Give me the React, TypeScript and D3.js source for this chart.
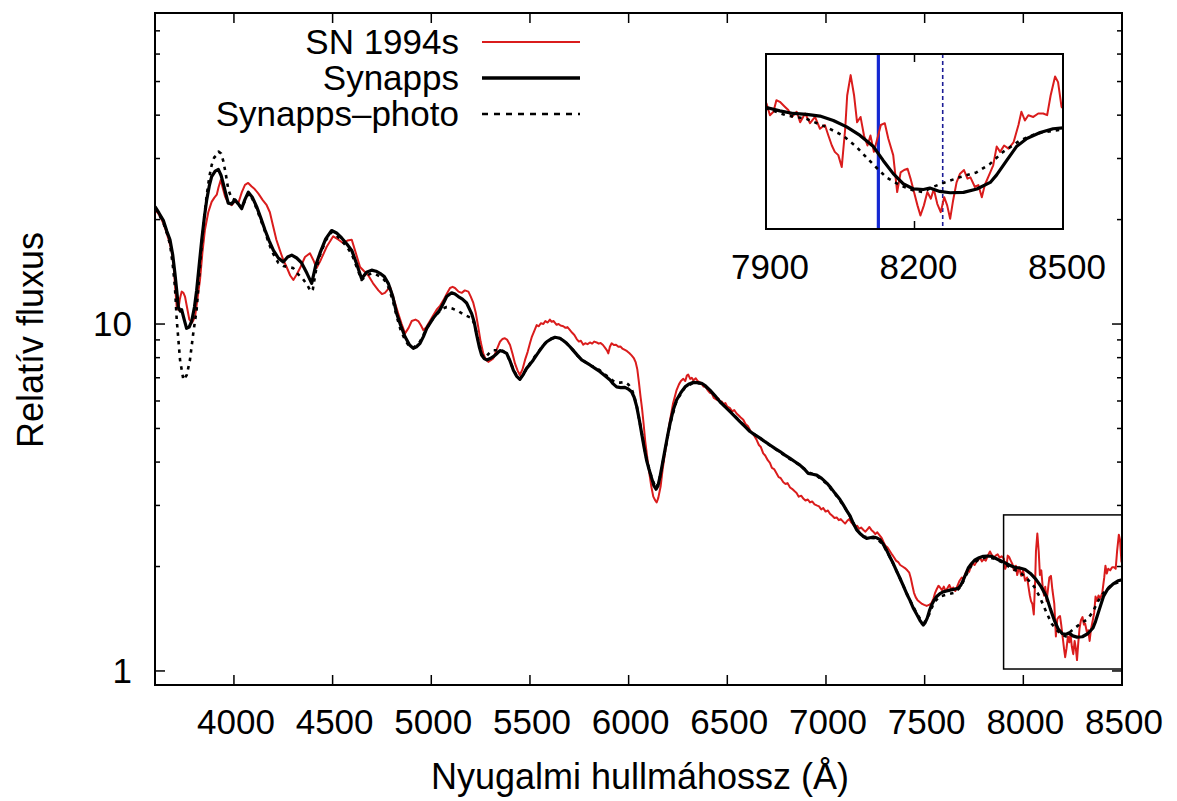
import React from 'react';
import * as d3 from 'd3';

type Pt = [number, number];

// Observed spectrum of SN 1994s: [wavelength (Å), relative flux]
const obsSpectrum: Pt[] = [
  [3600,21.3],[3615,20.9],[3630,20.2],[3642,19.5],[3655,18.6],[3668,17.6],[3684,16.3],[3695,14.5],[3703,12.6],[3710,11.2],[3718,11.0],[3726,11.8],[3735,12.4],[3744,12.3],[3752,12.0],[3762,11.2],[3774,10.3],[3788,10.1],[3803,10.5],[3815,11.8],[3828,13.4],[3840,16.0],[3853,18.7],[3870,21.0],[3887,22.5],[3900,23.1],[3913,23.6],[3922,24.8],[3933,26.0],[3944,24.6],[3955,23.3],[3970,22.4],[3989,22.0],[4005,22.6],[4022,22.3],[4040,24.0],[4056,25.2],[4072,25.5],[4090,24.9],[4105,24.5],[4123,23.8],[4145,22.8],[4166,22.0],[4182,21.0],[4199,19.1],[4215,17.5],[4233,16.3],[4250,15.3],[4267,14.6],[4285,13.8],[4301,13.4],[4318,13.9],[4335,14.5],[4360,15.6],[4385,16.0],[4402,15.3],[4419,14.5],[4440,15.3],[4470,16.7],[4503,17.9],[4530,17.5],[4554,17.1],[4575,17.4],[4597,17.5],[4615,16.2],[4639,14.6],[4660,14.2],[4681,13.8],[4705,13.1],[4732,12.5],[4750,12.2],[4765,12.3],[4791,12.8],[4810,11.8],[4833,10.7],[4850,10.0],[4867,9.4],[4885,9.75],[4901,10.2],[4920,10.3],[4934,10.2],[4948,9.9],[4960,9.6],[4975,9.8],[4993,10.2],[5010,10.6],[5027,11.0],[5045,11.3],[5061,11.7],[5078,12.2],[5095,12.7],[5108,12.8],[5120,12.7],[5138,12.4],[5154,12.3],[5170,12.5],[5188,12.4],[5200,12.0],[5213,11.5],[5225,10.8],[5238,9.8],[5250,8.9],[5264,8.2],[5277,7.9],[5289,7.78],[5300,7.85],[5314,7.96],[5330,8.4],[5348,8.89],[5360,9.05],[5373,9.1],[5385,9.0],[5399,8.7],[5412,8.2],[5424,7.7],[5437,7.35],[5449,7.13],[5462,7.4],[5475,7.88],[5488,8.3],[5500,8.8],[5510,9.2],[5520,9.5],[5534,9.93],[5545,9.85],[5555,10.05],[5568,10.0],[5578,10.2],[5590,10.1],[5601,10.3],[5610,10.15],[5620,10.2],[5635,9.95],[5645,10.0],[5655,9.9],[5669,9.85],[5680,9.75],[5690,9.8],[5703,9.6],[5713,9.45],[5725,9.3],[5737,9.05],[5748,8.9],[5758,8.95],[5770,8.72],[5780,8.8],[5792,8.75],[5804,8.85],[5815,8.78],[5826,8.9],[5838,8.85],[5848,8.78],[5858,8.82],[5870,8.7],[5880,8.55],[5890,8.4],[5897,8.23],[5905,8.6],[5914,8.8],[5925,8.7],[5936,8.72],[5948,8.6],[5958,8.62],[5968,8.5],[5981,8.42],[5992,8.35],[6003,8.25],[6015,8.12],[6026,7.98],[6036,7.75],[6044,7.4],[6052,6.8],[6060,6.2],[6068,5.7],[6076,5.15],[6084,4.6],[6095,4.1],[6105,3.71],[6115,3.4],[6125,3.18],[6135,3.1],[6142,3.06],[6150,3.15],[6162,3.4],[6172,3.8],[6184,4.24],[6197,4.75],[6210,5.29],[6225,5.9],[6243,6.45],[6255,6.7],[6265,6.85],[6277,6.95],[6287,6.85],[6295,7.1],[6302,7.15],[6312,6.95],[6320,7.0],[6328,6.88],[6340,6.98],[6350,6.85],[6360,6.8],[6370,6.72],[6380,6.6],[6390,6.62],[6400,6.45],[6412,6.33],[6422,6.3],[6432,6.12],[6446,6.05],[6455,6.1],[6463,5.95],[6472,5.98],[6480,5.88],[6490,5.92],[6500,5.78],[6514,5.72],[6525,5.6],[6535,5.65],[6547,5.52],[6558,5.45],[6568,5.38],[6581,5.3],[6592,5.15],[6604,5.08],[6615,4.95],[6625,4.85],[6635,4.78],[6649,4.63],[6660,4.48],[6670,4.42],[6682,4.24],[6692,4.18],[6705,4.05],[6716,3.98],[6726,3.85],[6737,3.82],[6750,3.71],[6760,3.62],[6770,3.6],[6784,3.5],[6795,3.46],[6805,3.48],[6818,3.38],[6828,3.35],[6840,3.3],[6851,3.26],[6862,3.18],[6875,3.2],[6885,3.14],[6896,3.1],[6908,3.12],[6919,3.06],[6930,3.08],[6942,3.02],[6953,3.0],[6965,2.98],[6976,2.92],[6986,2.95],[6998,2.88],[7010,2.9],[7020,2.84],[7032,2.8],[7043,2.76],[7054,2.77],[7065,2.72],[7075,2.74],[7088,2.69],[7097,2.66],[7108,2.71],[7118,2.74],[7128,2.68],[7138,2.64],[7147,2.61],[7158,2.62],[7168,2.57],[7178,2.59],[7190,2.55],[7200,2.52],[7210,2.56],[7220,2.6],[7230,2.55],[7240,2.52],[7250,2.48],[7260,2.51],[7272,2.46],[7282,2.42],[7292,2.35],[7300,2.3],[7312,2.27],[7325,2.21],[7336,2.16],[7346,2.12],[7355,2.08],[7366,2.06],[7376,2.02],[7388,2.0],[7400,1.98],[7412,1.95],[7422,1.92],[7430,1.85],[7438,1.76],[7446,1.68],[7455,1.63],[7464,1.6],[7475,1.58],[7487,1.56],[7498,1.55],[7510,1.54],[7522,1.55],[7535,1.57],[7545,1.62],[7553,1.68],[7561,1.72],[7570,1.76],[7578,1.74],[7588,1.71],[7597,1.75],[7606,1.7],[7615,1.73],[7625,1.77],[7635,1.72],[7645,1.74],[7655,1.7],[7666,1.76],[7677,1.82],[7688,1.86],[7697,1.84],[7706,1.91],[7716,1.95],[7725,1.93],[7734,2.0],[7744,2.04],[7753,2.02],[7762,2.06],[7772,2.09],[7780,2.12],[7790,2.07],[7800,2.1],[7810,2.08],[7820,2.15],[7831,2.21],[7840,2.16],[7850,2.12],[7860,2.15],[7870,2.17],[7880,2.12],[7890,2.14],[7901,2.11],
  [7908,1.97],[7915,2.01],[7921,2.15],[7928,2.13],[7938,2.07],[7945,2.03],[7952,1.95],[7962,2.01],[7969,1.89],[7979,1.99],[7989,1.88],[7999,1.95],[8009,1.82],[8019,1.86],[8026,1.75],[8033,1.65],[8039,1.59],[8046,1.56],[8053,1.455],[8060,1.82],[8064,2.21],[8071,2.49],[8078,2.21],[8084,1.89],[8091,1.95],[8098,1.75],[8105,1.65],[8111,1.75],[8118,1.59],[8125,1.72],[8132,1.86],[8140,1.88],[8147,1.72],[8157,1.56],[8165,1.257],[8172,1.41],[8179,1.43],[8186,1.44],[8192,1.36],[8199,1.257],[8206,1.163],[8212,1.096],[8219,1.163],[8226,1.257],[8233,1.209],[8239,1.28],[8246,1.174],[8253,1.118],[8260,1.22],[8266,1.163],[8272,1.075],[8278,1.197],[8285,1.33],[8292,1.40],[8300,1.43],[8307,1.36],[8313,1.37],[8322,1.295],[8329,1.31],[8336,1.22],[8342,1.31],[8353,1.41],[8359,1.47],[8366,1.64],[8373,1.59],[8381,1.65],[8390,1.62],[8400,1.68],[8410,1.86],[8416,2.01],[8423,1.91],[8430,1.97],[8440,1.95],[8450,1.99],[8460,1.99],[8468,1.97],[8475,2.21],[8484,2.47],[8490,2.39],[8497,2.07],[8500,2.05]
];

// Synapps model fit
const synappsSpectrum: Pt[] = [
  [3600,21.8],[3620,20.9],[3642,19.9],[3660,18.5],[3676,17.5],[3690,15.8],[3701,14.0],[3710,12.5],[3718,11.2],[3728,10.9],[3735,11.0],[3748,10.3],[3760,9.72],[3773,9.8],[3786,10.2],[3800,11.2],[3811,12.5],[3825,15.0],[3837,17.5],[3850,20.3],[3862,22.8],[3875,25.0],[3887,26.6],[3905,27.6],[3921,27.9],[3935,26.8],[3946,25.4],[3960,23.6],[3971,22.3],[3988,22.2],[4005,22.8],[4022,22.2],[4039,21.5],[4055,22.8],[4073,24.0],[4093,23.2],[4115,21.8],[4135,20.3],[4157,18.7],[4178,17.4],[4200,16.3],[4225,15.5],[4250,15.1],[4272,15.6],[4293,15.8],[4318,15.5],[4343,15.0],[4370,14.0],[4394,13.1],[4415,14.8],[4436,16.0],[4465,17.6],[4495,18.6],[4520,18.3],[4546,17.7],[4572,17.0],[4597,16.3],[4622,14.9],[4647,13.5],[4672,14.1],[4698,14.3],[4720,14.2],[4740,14.0],[4762,13.7],[4782,13.1],[4805,12.0],[4825,10.7],[4845,9.9],[4867,9.19],[4890,8.7],[4909,8.51],[4925,8.6],[4943,8.8],[4960,9.2],[4977,9.72],[5010,10.4],[5044,11.0],[5062,11.5],[5078,12.0],[5103,12.3],[5120,12.2],[5137,12.0],[5158,11.8],[5179,11.5],[5205,10.7],[5218,10.1],[5230,9.3],[5243,8.6],[5255,8.14],[5268,7.95],[5281,7.88],[5298,7.95],[5314,8.05],[5330,8.2],[5348,8.38],[5365,8.33],[5382,8.23],[5400,7.8],[5416,7.36],[5432,7.08],[5449,6.93],[5466,7.15],[5483,7.45],[5500,7.65],[5517,7.88],[5534,8.15],[5551,8.41],[5568,8.67],[5585,8.89],[5606,9.05],[5627,9.16],[5652,9.1],[5670,8.95],[5686,8.8],[5703,8.6],[5720,8.38],[5741,8.12],[5762,7.88],[5783,7.75],[5804,7.62],[5830,7.45],[5855,7.29],[5880,7.1],[5906,6.9],[5922,6.72],[5939,6.59],[5960,6.56],[5981,6.57],[5998,6.5],[6015,6.38],[6028,6.15],[6041,5.78],[6054,5.3],[6066,4.84],[6078,4.42],[6091,4.05],[6104,3.8],[6117,3.59],[6128,3.42],[6139,3.34],[6149,3.42],[6159,3.63],[6171,3.95],[6184,4.33],[6197,4.75],[6210,5.17],[6226,5.65],[6243,6.04],[6265,6.35],[6286,6.59],[6307,6.72],[6328,6.79],[6350,6.78],[6370,6.75],[6391,6.62],[6412,6.45],[6437,6.22],[6463,5.97],[6488,5.78],[6514,5.59],[6539,5.41],[6564,5.23],[6590,5.06],[6615,4.9],[6640,4.79],[6666,4.69],[6691,4.58],[6716,4.48],[6741,4.38],[6767,4.29],[6792,4.19],[6818,4.1],[6843,4.01],[6868,3.92],[6890,3.82],[6910,3.71],[6932,3.69],[6953,3.67],[6978,3.59],[7004,3.48],[7025,3.37],[7046,3.25],[7071,3.12],[7088,3.01],[7105,2.9],[7122,2.8],[7139,2.66],[7156,2.55],[7172,2.49],[7190,2.44],[7206,2.41],[7223,2.42],[7240,2.43],[7257,2.42],[7274,2.39],[7290,2.32],[7307,2.23],[7324,2.13],[7341,2.04],[7358,1.94],[7375,1.85],[7392,1.76],[7409,1.67],[7425,1.6],[7442,1.52],[7459,1.46],[7476,1.4],[7485,1.375],[7493,1.357],[7503,1.38],[7513,1.42],[7524,1.49],[7535,1.55],[7548,1.6],[7561,1.64],[7577,1.67],[7594,1.69],[7611,1.7],[7628,1.71],[7650,1.72],[7670,1.73],[7684,1.77],[7696,1.83],[7708,1.9],[7721,1.98],[7738,2.04],[7755,2.09],[7776,2.12],[7797,2.14],[7818,2.145],[7840,2.14],[7861,2.11],[7882,2.08],
  [7901,2.06],[7928,2.02],[7955,1.99],[7982,1.98],[8009,1.96],[8036,1.91],[8063,1.84],[8090,1.75],[8117,1.64],[8137,1.51],[8157,1.4],[8177,1.32],[8198,1.28],[8218,1.276],[8231,1.287],[8251,1.262],[8272,1.252],[8299,1.255],[8326,1.28],[8353,1.33],[8366,1.39],[8386,1.51],[8406,1.64],[8427,1.72],[8454,1.78],[8480,1.82],[8500,1.83]
];

// Synapps fit constrained by photometry
const photoSpectrum: Pt[] = [
  [3600,21.5],[3620,20.7],[3642,19.6],[3660,18.3],[3676,17.0],[3690,14.8],[3701,12.8],[3710,10.3],[3727,7.87],[3744,6.9],[3761,7.13],[3777,7.87],[3794,9.42],[3811,11.0],[3825,14.0],[3837,17.0],[3850,20.5],[3862,23.5],[3875,26.5],[3887,28.7],[3900,30.2],[3913,30.7],[3922,31.4],[3935,31.0],[3946,29.5],[3958,27.2],[3971,24.5],[3988,23.0],[4005,22.8],[4022,22.2],[4039,21.6],[4055,22.6],[4073,23.8],[4093,23.0],[4115,21.5],[4135,20.0],[4157,18.5],[4178,17.0],[4200,15.9],[4225,15.0],[4250,14.7],[4275,14.6],[4300,14.5],[4320,14.0],[4345,13.6],[4370,13.0],[4390,12.4],[4400,12.6],[4415,14.2],[4436,15.8],[4465,17.4],[4495,18.4],[4520,18.0],[4546,17.4],[4572,16.7],[4597,15.9],[4622,14.6],[4647,13.4],[4672,13.8],[4698,14.0],[4720,13.9],[4740,13.7],[4762,13.4],[4782,12.8],[4805,11.7],[4825,10.5],[4845,9.6],[4867,9.0],[4890,8.6],[4909,8.55],[4925,8.7],[4943,8.9],[4960,9.3],[4977,9.72],[5010,10.4],[5044,10.9],[5062,11.1],[5078,11.2],[5103,11.1],[5120,11.0],[5137,10.9],[5158,10.7],[5188,10.5],[5205,10.4],[5218,10.0],[5230,9.4],[5243,8.7],[5255,8.2],[5268,8.0],[5281,8.1],[5298,8.3],[5314,8.4],[5330,8.4],[5348,8.45],[5365,8.35],[5382,8.2],[5400,7.8],[5416,7.4],[5432,7.1],[5449,6.95],[5466,7.15],[5483,7.45],[5500,7.7],[5517,7.95],[5534,8.2],[5551,8.45],[5568,8.7],[5585,8.9],[5606,9.05],[5627,9.15],[5652,9.1],[5670,8.95],[5686,8.8],[5703,8.6],[5720,8.4],[5741,8.1],[5762,7.9],[5783,7.75],[5804,7.6],[5830,7.5],[5855,7.35],[5880,7.15],[5906,6.98],[5922,6.85],[5939,6.78],[5960,6.78],[5981,6.8],[5998,6.7],[6015,6.5],[6028,6.2],[6041,5.8],[6066,4.86],[6091,4.07],[6117,3.6],[6139,3.36],[6159,3.62],[6184,4.3],[6210,5.15],[6243,6.02],[6286,6.57],[6328,6.77],[6370,6.73],[6412,6.44],[6463,5.97],[6514,5.6],[6564,5.24],[6615,4.9],[6666,4.69],[6716,4.47],[6767,4.27],[6818,4.08],[6868,3.92],[6910,3.74],[6953,3.66],[7004,3.46],[7046,3.24],[7088,3.0],[7122,2.79],[7156,2.55],[7190,2.44],[7223,2.42],[7257,2.41],[7290,2.31],[7324,2.13],[7358,1.94],[7392,1.76],[7425,1.6],[7459,1.47],[7485,1.39],[7500,1.38],[7524,1.46],[7548,1.58],[7577,1.64],[7611,1.66],[7650,1.68],[7684,1.75],[7708,1.88],[7738,2.02],[7776,2.1],[7818,2.13],[7861,2.1],[7882,2.07],
  [7901,2.05],[7940,1.97],[7981,1.93],[8021,1.84],[8055,1.75],[8082,1.64],[8116,1.48],[8143,1.37],[8170,1.31],[8197,1.27],[8217,1.257],[8237,1.295],[8261,1.33],[8291,1.37],[8325,1.41],[8352,1.48],[8379,1.59],[8413,1.7],[8447,1.77],[8481,1.8],[8500,1.81]
];

const seriesNames = ['SN 1994s', 'Synapps', 'Synapps–photo'];
const xTickValues = [4000, 4500, 5000, 5500, 6000, 6500, 7000, 7500, 8000, 8500];
const yMajorTicks = [1, 10];
const yMinorTicks = [2, 3, 4, 5, 6, 7, 8, 9, 20, 30, 40, 50, 60, 70];
const insetXTicks = [7900, 8200, 8500];
const insetInnerTicks = [8200];
const markerLines = [8127, 8257];
const zoomWave: [number, number] = [7900, 8500];
const zoomFlux: [number, number] = [1.013, 2.817];

const FONT = 'Liberation Sans, Arial, Helvetica, sans-serif';
const RED = '#da1c1c';

export default function App() {
  const x = d3.scaleLinear().domain([3600, 8500]).range([155, 1122]);
  const y = d3.scaleLog().domain([0.911, 78.8]).range([685, 13]);
  const line = d3.line<Pt>().x(d => x(d[0])).y(d => y(d[1]));

  const ix = d3.scaleLinear().domain(zoomWave).range([766, 1063]);
  const iy = d3.scaleLog().domain(zoomFlux).range([229, 54]);
  const iline = d3.line<Pt>().x(d => ix(d[0])).y(d => iy(d[1]));
  const inRange = (d: Pt) => d[0] >= 7880 && d[0] <= 8500;

  const [x0, x1] = x.range();
  const [yb, yt] = y.range();
  const [ix0, ix1] = ix.range();
  const [iyb, iyt] = iy.range();

  return (
    <svg width={1177} height={801} style={{ position: 'absolute', left: 0, top: 0, background: '#fff' }}
      fontFamily={FONT}>
      <defs>
        <clipPath id="mainClip"><rect x={x0} y={yt} width={x1 - x0} height={yb - yt} /></clipPath>
        <clipPath id="insetClip"><rect x={ix0} y={iyt} width={ix1 - ix0} height={iyb - iyt} /></clipPath>
      </defs>
      <rect x={0} y={0} width={1177} height={801} fill="#fff" />

      {/* curves */}
      <g clipPath="url(#mainClip)" fill="none" strokeLinejoin="round">
        <path d={line(obsSpectrum) || ''} stroke={RED} strokeWidth={2} />
        <path d={line(synappsSpectrum) || ''} stroke="#000" strokeWidth={3.2} />
        <path d={line(photoSpectrum) || ''} stroke="#000" strokeWidth={2.6} strokeDasharray="3.5,5" />
      </g>

      {/* zoom box in main plot */}
      <rect x={x(zoomWave[0])} y={y(zoomFlux[1])} width={x(zoomWave[1]) - x(zoomWave[0])}
        height={y(zoomFlux[0]) - y(zoomFlux[1])} fill="none" stroke="#000" strokeWidth={1.5} />

      {/* ticks */}
      <g stroke="#000" strokeWidth={1.5}>
        {xTickValues.map(t => (
          <g key={'xt' + t}>
            <line x1={x(t)} x2={x(t)} y1={yb} y2={yb - 10} />
            <line x1={x(t)} x2={x(t)} y1={yt} y2={yt + 10} />
          </g>
        ))}
        {yMajorTicks.map(t => (
          <g key={'ym' + t}>
            <line x1={x0} x2={x0 + 10} y1={y(t)} y2={y(t)} />
            <line x1={x1} x2={x1 - 10} y1={y(t)} y2={y(t)} />
          </g>
        ))}
        {yMinorTicks.map(t => (
          <g key={'yn' + t}>
            <line x1={x0} x2={x0 + 5} y1={y(t)} y2={y(t)} />
            <line x1={x1} x2={x1 - 5} y1={y(t)} y2={y(t)} />
          </g>
        ))}
      </g>
      <rect x={x0} y={yt} width={x1 - x0} height={yb - yt} fill="none" stroke="#000" strokeWidth={2} />

      {/* tick labels */}
      <g fontSize={35} fill="#000">
        {xTickValues.map(t => (
          <text key={'xl' + t} x={x(t) + 2} y={734} textAnchor="middle">{t}</text>
        ))}
        {yMajorTicks.map(t => (
          <text key={'yl' + t} x={132} y={y(t) + 12} textAnchor="end">{t}</text>
        ))}
      </g>

      {/* axis titles */}
      <text x={640} y={789} textAnchor="middle" fontSize={36}>Nyugalmi hullmáhossz (Å)</text>
      <text transform={`translate(43,340) rotate(-90)`} textAnchor="middle" fontSize={36}>Relatív fluxus</text>

      {/* legend */}
      <g fontSize={35}>
        {seriesNames.map((name, i) => {
          const ly = 42 + i * 36;
          return (
            <g key={name}>
              <text x={459} y={ly + 12} textAnchor="end">{name}</text>
              <line x1={482} x2={580} y1={ly} y2={ly}
                stroke={i === 0 ? RED : '#000'}
                strokeWidth={i === 0 ? 2 : i === 1 ? 3.4 : 2.6}
                strokeDasharray={i === 2 ? '6,6' : undefined} />
            </g>
          );
        })}
      </g>

      {/* inset */}
      <rect x={ix0} y={iyt} width={ix1 - ix0} height={iyb - iyt} fill="#fff" />
      <g clipPath="url(#insetClip)" fill="none" strokeLinejoin="round">
        <line x1={ix(markerLines[0])} x2={ix(markerLines[0])} y1={iyt} y2={iyb} stroke="#1428d2" strokeWidth={3.2} />
        <line x1={ix(markerLines[1])} x2={ix(markerLines[1])} y1={iyt} y2={iyb} stroke="#1c1c96" strokeWidth={1.6} strokeDasharray="4,3" />
        <path d={iline(obsSpectrum.filter(inRange)) || ''} stroke={RED} strokeWidth={2} />
        <path d={iline(synappsSpectrum.filter(inRange)) || ''} stroke="#000" strokeWidth={3.2} />
        <path d={iline(photoSpectrum.filter(inRange)) || ''} stroke="#000" strokeWidth={2.6} strokeDasharray="3.5,5" />
      </g>
      <g stroke="#000" strokeWidth={1.5}>
        {insetInnerTicks.map(t => (
          <g key={'it' + t}>
            <line x1={ix(t)} x2={ix(t)} y1={iyb} y2={iyb - 8} />
            <line x1={ix(t)} x2={ix(t)} y1={iyt} y2={iyt + 8} />
          </g>
        ))}
      </g>
      <rect x={ix0} y={iyt} width={ix1 - ix0} height={iyb - iyt} fill="none" stroke="#000" strokeWidth={2} />
      <g fontSize={35}>
        {insetXTicks.map(t => (
          <text key={'il' + t} x={ix(t) + 4} y={279} textAnchor="middle">{t}</text>
        ))}
      </g>
    </svg>
  );
}
